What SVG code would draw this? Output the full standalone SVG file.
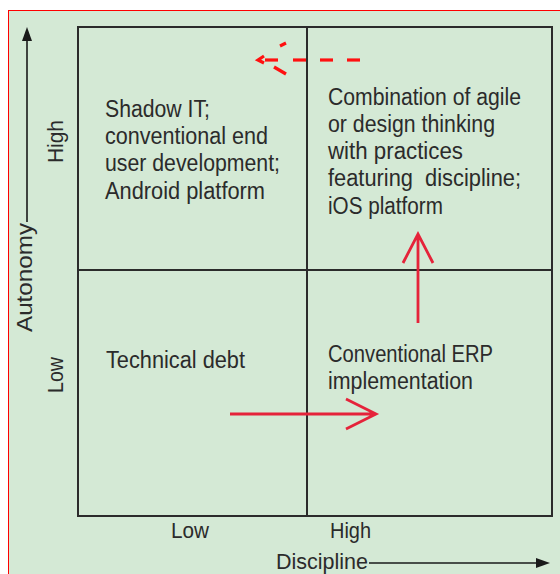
<svg xmlns="http://www.w3.org/2000/svg" width="560" height="574" viewBox="0 0 560 574">
  <style>
    .t { font-family: "Liberation Sans Narrow", "Liberation Sans", Arial, sans-serif; font-size: 23px; fill: #2b2b2b; }
    .a { font-family: "Liberation Sans Narrow", "Liberation Sans", Arial, sans-serif; font-size: 22px; fill: #2b2b2b; }
    .grid { fill: none; stroke: #2b2b2b; stroke-width: 2; }
    .axis { stroke: #1a1a1a; stroke-width: 1.6; fill: none; }
    .red { stroke: #e5233a; stroke-width: 2.8; fill: none; stroke-linecap: butt; }
    .dash { stroke: #ff1010; stroke-width: 3.2; fill: none; }
  </style>
  <rect x="0" y="0" width="560" height="574" fill="#ffffff"/>
  <rect x="8.5" y="10.5" width="560" height="580" fill="#d4e9d5" stroke="#ff0000" stroke-width="1"/>

  <g id="grid">
    <rect class="grid" x="78" y="27" width="474" height="489"/>
    <line class="grid" x1="307" y1="27" x2="307" y2="516"/>
    <line class="grid" x1="78" y1="270" x2="552" y2="270"/>
  </g>

  <g id="axis-autonomy">
    <line class="axis" x1="27" y1="222" x2="27" y2="38"/>
    <polygon points="27,27 22,41 32,41" fill="#1a1a1a"/>
    <text class="a" transform="translate(32,277.5) rotate(-90)" text-anchor="middle" textLength="109" lengthAdjust="spacingAndGlyphs">Autonomy</text>
    <text class="a" transform="translate(63,141.5) rotate(-90)" text-anchor="middle" textLength="43" lengthAdjust="spacingAndGlyphs">High</text>
    <text class="a" transform="translate(63,375) rotate(-90)" text-anchor="middle" textLength="36" lengthAdjust="spacingAndGlyphs">Low</text>
  </g>

  <g id="axis-discipline">
    <line class="axis" x1="369" y1="563" x2="540" y2="563"/>
    <polygon points="550,563 536,558 536,568" fill="#1a1a1a"/>
    <text class="a" x="276" y="569" textLength="92" lengthAdjust="spacingAndGlyphs">Discipline</text>
    <text class="a" x="171" y="538" textLength="38" lengthAdjust="spacingAndGlyphs">Low</text>
    <text class="a" x="330" y="538" textLength="41" lengthAdjust="spacingAndGlyphs">High</text>
  </g>

  <g id="q-top-left">
    <text class="t" x="105" y="117" textLength="105" lengthAdjust="spacingAndGlyphs">Shadow IT;</text>
    <text class="t" x="105" y="144" textLength="163" lengthAdjust="spacingAndGlyphs">conventional end</text>
    <text class="t" x="105" y="171" textLength="175" lengthAdjust="spacingAndGlyphs">user development;</text>
    <text class="t" x="105" y="199" textLength="160" lengthAdjust="spacingAndGlyphs">Android platform</text>
  </g>

  <g id="q-top-right">
    <text class="t" x="328" y="105" textLength="193" lengthAdjust="spacingAndGlyphs">Combination of agile</text>
    <text class="t" x="328" y="132" textLength="167" lengthAdjust="spacingAndGlyphs">or design thinking</text>
    <text class="t" x="328" y="159" textLength="135" lengthAdjust="spacingAndGlyphs">with practices</text>
    <text class="t" x="328" y="186" textLength="193" lengthAdjust="spacingAndGlyphs" xml:space="preserve">featuring  discipline;</text>
    <text class="t" x="328" y="214" textLength="115" lengthAdjust="spacingAndGlyphs">iOS platform</text>
  </g>

  <g id="q-bottom-left">
    <text class="t" x="106" y="368" textLength="139" lengthAdjust="spacingAndGlyphs">Technical debt</text>
  </g>

  <g id="q-bottom-right">
    <text class="t" x="328" y="362" textLength="165" lengthAdjust="spacingAndGlyphs">Conventional ERP</text>
    <text class="t" x="328" y="389" textLength="145" lengthAdjust="spacingAndGlyphs">implementation</text>
  </g>

  <g id="connectors">
    <path class="red" d="M230,414 L375,414 M346,399 L376,414 L346,429"/>
    <path class="red" d="M418,323 L418,236 M403,263 L418,234 L433,263"/>
    <g class="dash">
      <line x1="360" y1="60" x2="347" y2="60"/>
      <line x1="333" y1="60" x2="320" y2="60"/>
      <line x1="306" y1="60" x2="293" y2="60"/>
      <line x1="278" y1="60" x2="265" y2="60"/>
      <path d="M264,56 L258,60 L264,63"/>
      <line x1="280" y1="46" x2="286" y2="43"/>
      <line x1="274" y1="67" x2="286" y2="74"/>
    </g>
  </g>
</svg>
